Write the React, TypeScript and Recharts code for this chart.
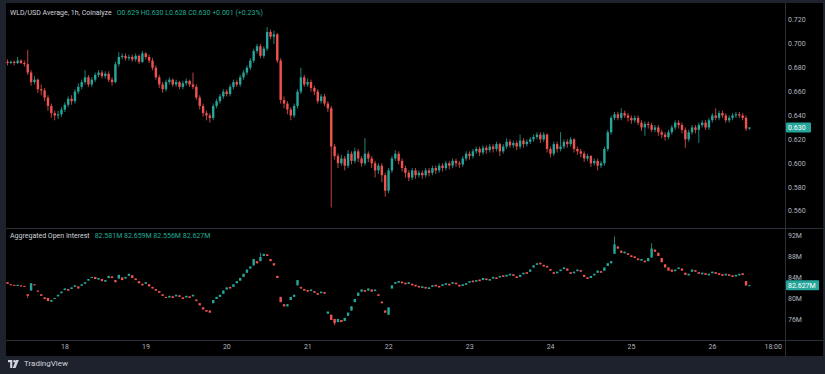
import React from "react";
import { BarChart, Bar, XAxis, YAxis, ReferenceLine } from "recharts";

// WLD/USD hourly candles, starting 17th 07:00 (price x1000)
const priceFirstOpen = 685;
const priceClose = [
  684, 685, 684, 686, 684, 683, 676, 668, 670, 662,
  661, 655, 648, 642, 640, 641, 645, 649, 654, 652,
  660, 664, 668, 672, 666, 670, 674, 676, 673, 675,
  670, 668, 683, 689, 690, 688, 689, 687, 690, 685,
  692, 689, 686, 680, 672, 666, 662, 668, 670, 666,
  668, 664, 667, 669, 666, 664, 655, 648, 642, 640,
  638, 648, 652, 656, 660, 658, 664, 668, 666, 672,
  676, 680, 686, 694, 698, 690, 696, 710, 706, 708,
  686, 653, 650, 645, 640, 648, 660, 672, 666, 668,
  663, 660, 652, 656, 650, 646, 614, 606, 600, 604,
  598, 608, 602, 610, 604, 600, 608, 604, 600, 594,
  598, 590, 577, 594, 604, 608, 602, 596, 592, 588,
  594, 590, 592, 590, 594, 592, 596, 594, 598, 596,
  600, 598, 602, 600, 599, 604, 608, 606, 610, 612,
  609, 613, 611, 614, 612, 616, 610, 614, 618, 615,
  617, 614, 619, 616, 618, 620, 622, 624, 620, 624,
  612, 608, 616, 612, 614, 618, 616, 620, 612, 610,
  608, 604, 606, 600, 602, 598, 600, 612, 626, 638,
  641, 638, 642, 640, 638, 636, 638, 634, 630, 633,
  632, 628, 630, 626, 624, 622, 626, 630, 634, 632,
  628, 620, 626, 630, 628, 632, 634, 630, 636, 640,
  638, 642, 640, 636, 638, 640, 641, 640, 638, 629,
  630,
];
const priceHigh = [
  687, 686, 686, 689, 687, 686, 695, 678, 673, 671,
  666, 663, 657, 650, 644, 644, 647, 651, 656, 657,
  662, 667, 670, 678, 674, 672, 676, 678, 678, 677,
  677, 672, 685, 693, 692, 692, 691, 691, 692, 691,
  694, 693, 691, 688, 682, 674, 668, 670, 672, 671,
  670, 669, 669, 671, 670, 676, 666, 657, 650, 644,
  642, 650, 654, 658, 662, 662, 666, 670, 670, 674,
  678, 682, 688, 696, 700, 700, 698, 714, 712, 711,
  709, 688, 656, 652, 647, 650, 662, 680, 674, 671,
  670, 665, 662, 658, 658, 652, 648, 616, 608, 607,
  606, 611, 610, 613, 612, 606, 621, 610, 606, 602,
  600, 600, 592, 596, 606, 611, 610, 604, 598, 594,
  596, 596, 594, 594, 596, 596, 598, 598, 600, 600,
  602, 602, 604, 604, 602, 606, 610, 610, 612, 614,
  614, 615, 615, 616, 616, 618, 617, 616, 621, 620,
  619, 619, 624, 621, 620, 622, 624, 626, 626, 626,
  625, 614, 618, 618, 626, 620, 620, 622, 621, 614,
  612, 610, 608, 607, 604, 604, 602, 614, 628, 640,
  643, 643, 646, 644, 642, 640, 640, 640, 636, 635,
  635, 634, 632, 632, 628, 626, 628, 632, 636, 636,
  634, 630, 628, 632, 632, 634, 636, 636, 638, 642,
  646, 644, 644, 642, 640, 642, 643, 643, 642, 640,
  630,
];
const priceLow = [
  682, 683, 682, 683, 683, 681, 674, 665, 666, 659,
  657, 652, 644, 638, 636, 637, 639, 643, 647, 649,
  650, 658, 662, 666, 664, 664, 668, 672, 671, 671,
  668, 665, 667, 681, 687, 686, 686, 685, 685, 683,
  684, 687, 684, 678, 670, 663, 659, 660, 666, 664,
  664, 662, 662, 665, 664, 662, 653, 645, 639, 636,
  634, 636, 646, 650, 654, 656, 656, 662, 664, 664,
  670, 674, 678, 684, 692, 688, 688, 694, 704, 700,
  684, 650, 646, 641, 636, 638, 646, 658, 664, 664,
  660, 657, 650, 650, 648, 643, 563, 603, 596, 598,
  594, 596, 599, 600, 601, 597, 598, 601, 596, 588,
  591, 584, 572, 575, 592, 602, 599, 593, 588, 585,
  586, 587, 588, 587, 588, 589, 590, 591, 592, 593,
  594, 595, 596, 597, 596, 597, 602, 603, 604, 608,
  606, 607, 608, 609, 609, 610, 606, 608, 612, 613,
  613, 611, 612, 613, 614, 616, 618, 620, 617, 618,
  609, 605, 606, 609, 610, 612, 613, 614, 609, 607,
  605, 601, 602, 597, 598, 594, 596, 598, 610, 624,
  636, 636, 636, 638, 635, 633, 634, 632, 627, 623,
  629, 626, 626, 623, 621, 619, 620, 624, 628, 629,
  625, 613, 618, 624, 625, 617, 630, 628, 628, 634,
  636, 636, 638, 634, 634, 636, 638, 638, 636, 627,
  628,
];
const priceTicks = [0.56, 0.58, 0.6, 0.62, 0.64, 0.66, 0.68, 0.7, 0.72];

// Aggregated open interest, millions, same hours
const oiOpen = [
  83.2, 82.8, 82.7, 82.5, 82.6, 82.5, 80.9, 81.6, 82.8, 81.6,
  80.9, 80.3, 80.2, 79.5, 80.0, 80.5, 81.1, 81.7, 81.9, 81.9,
  82.3, 82.4, 82.5, 82.9, 83.5, 84.0, 84.2, 83.7, 83.8, 83.3,
  84.0, 84.3, 83.6, 83.9, 84.1, 83.9, 84.4, 84.5, 83.9, 83.4,
  82.9, 82.9, 82.8, 82.3, 81.9, 81.5, 80.9, 80.4, 80.3, 80.5,
  80.5, 80.7, 80.3, 80.3, 80.5, 80.5, 79.9, 79.2, 78.4, 77.9,
  77.8, 79.2, 80.0, 80.4, 81.0, 81.8, 82.3, 82.3, 83.0, 83.5,
  84.2, 85.0, 85.8, 86.4, 87.2, 87.2, 88.2, 88.5, 87.6, 86.8,
  84.4, 80.4, 79.0, 78.6, 79.8, 80.4, 82.6, 82.3, 81.9, 81.7,
  81.5, 81.5, 81.1, 81.1, 81.3, 77.2, 77.0, 76.2, 75.6, 76.0,
  75.8, 76.8, 77.8, 79.4, 80.6, 81.4, 81.7, 81.6, 81.8, 81.5,
  80.9, 79.5, 77.8, 77.0, 82.0, 82.9, 83.1, 83.3, 83.1, 82.9,
  82.9, 82.7, 82.5, 82.1, 82.3, 81.9, 82.3, 82.7, 82.5, 82.5,
  82.7, 82.9, 82.9, 83.1, 82.7, 82.5, 82.7, 83.1, 83.5, 83.3,
  83.7, 83.6, 83.9, 83.5, 83.9, 84.1, 84.1, 84.5, 84.3, 84.5,
  84.7, 84.3, 84.2, 84.7, 85.1, 85.2, 86.0, 86.5, 86.9, 86.5,
  86.3, 85.7, 85.1, 84.9, 85.3, 85.7, 85.8, 85.1, 84.9, 85.3,
  85.5, 84.6, 84.1, 84.0, 84.5, 85.0, 85.3, 85.4, 86.3, 86.8,
  88.6, 90.0, 89.2, 88.7, 88.7, 88.3, 88.1, 87.7, 87.3, 87.3,
  87.2, 87.9, 89.4, 88.8, 87.8, 86.6, 86.0, 85.6, 85.3, 85.7,
  85.8, 85.0, 84.5, 85.2, 85.5, 85.1, 84.7, 84.9, 84.5, 84.9,
  85.1, 84.9, 84.7, 84.5, 84.7, 84.5, 84.3, 84.5, 84.9, 83.4,
  82.581,
];
const oiClose = [
  82.9, 82.6, 82.5, 82.7, 82.4, 82.3, 80.6, 83.0, 82.6, 81.4,
  80.6, 80.0, 79.6, 79.8, 80.2, 80.8, 81.4, 82.0, 81.6, 82.2,
  82.6, 82.0, 82.8, 83.2, 83.8, 84.2, 83.8, 84.0, 83.4, 83.6,
  84.4, 84.0, 83.2, 84.6, 83.6, 84.2, 84.8, 84.0, 83.6, 83.0,
  82.6, 83.2, 82.4, 82.0, 81.6, 81.2, 80.6, 80.2, 80.6, 80.2,
  80.8, 80.4, 80.0, 80.6, 80.2, 80.8, 79.6, 78.8, 78.0, 77.6,
  77.4, 79.8, 80.4, 80.8, 81.6, 82.2, 82.0, 82.8, 83.4, 84.0,
  84.8, 85.6, 86.2, 87.6, 86.8, 88.0, 88.6, 88.2, 87.2, 86.4,
  84.0, 79.4, 78.6, 79.0, 80.4, 80.8, 83.6, 82.0, 81.6, 81.4,
  81.8, 81.2, 80.8, 81.4, 81.0, 77.6, 76.0, 75.4, 76.2, 75.6,
  76.4, 77.4, 78.6, 80.0, 81.2, 81.8, 81.4, 82.0, 81.4, 81.8,
  80.6, 79.2, 77.4, 78.4, 82.6, 83.2, 83.4, 83.0, 82.8, 83.2,
  82.6, 82.4, 82.2, 82.4, 82.0, 82.2, 82.6, 82.4, 82.2, 82.8,
  83.0, 82.6, 83.2, 82.8, 82.4, 82.8, 83.0, 83.4, 83.2, 83.6,
  83.4, 84.0, 83.6, 83.8, 84.2, 83.8, 84.4, 84.2, 84.6, 84.8,
  84.4, 84.0, 84.6, 85.0, 84.8, 85.6, 86.4, 86.8, 86.6, 86.2,
  86.0, 85.4, 84.8, 85.2, 85.6, 86.0, 85.4, 84.8, 85.2, 85.6,
  85.2, 84.2, 83.8, 84.4, 84.8, 85.4, 85.0, 86.0, 86.8, 87.2,
  90.4, 89.6, 88.8, 89.0, 88.4, 88.0, 87.8, 87.4, 87.6, 87.0,
  87.8, 89.6, 89.0, 88.2, 87.0, 86.0, 85.4, 85.2, 85.6, 86.0,
  85.4, 84.6, 84.8, 85.6, 85.2, 84.8, 85.0, 84.6, 84.8, 85.2,
  84.8, 84.6, 84.4, 84.8, 84.4, 84.2, 84.6, 84.8, 84.6, 82.581,
  82.627,
];
// visible OI wicks: [hour index, value]
const oiWickHigh: [number, number][] = [[75, 88.8], [180, 91.9], [191, 90.6], [220, 82.659]];
const oiWickLow: [number, number][] = [[97, 75.0], [6, 80.2], [220, 82.556]];
const oiTicks = [76, 80, 84, 88, 92];

const START_DAY = 17;
const START_HOUR = 7;
const SLOTS = 231;

const UP = "#26a69a";
const DOWN = "#ef5350";
const FRAME = "#1e222d";
const LINE = "#2a2e39";
const TEXT = "#b2b5be";
const FONT = "Roboto, 'Liberation Sans', sans-serif";

const slotTime = (i: number) => {
  const h = START_HOUR + i;
  return { day: START_DAY + Math.floor(h / 24), hour: h % 24 };
};

const priceRows = Array.from({ length: SLOTS }, (_, i) => {
  if (i >= priceClose.length) return { slot: i };
  const open = (i === 0 ? priceFirstOpen : priceClose[i - 1]) / 1000;
  const close = priceClose[i] / 1000;
  const high = priceHigh[i] / 1000;
  const low = priceLow[i] / 1000;
  return { slot: i, open, close, high, low, hl: [low, high] };
});

const oiRows = Array.from({ length: SLOTS }, (_, i) => {
  if (i >= oiClose.length) return { slot: i };
  const open = oiOpen[i];
  const close = oiClose[i];
  const wh = oiWickHigh.find((w) => w[0] === i);
  const wl = oiWickLow.find((w) => w[0] === i);
  const high = wh ? wh[1] : Math.max(open, close);
  const low = wl ? wl[1] : Math.min(open, close);
  return { slot: i, open, close, high, low, hl: [low, high] };
});

const timeTicks = priceRows
  .map((r) => r.slot)
  .filter((i) => {
    const t = slotTime(i);
    return t.hour === 0 || (t.day === 26 && t.hour === 18);
  });
const timeLabel = (i: number) => {
  const t = slotTime(i);
  return t.hour === 0 ? String(t.day) : `${t.hour}:00`;
};

function Candle(props: any) {
  const { x, y, width, height, payload } = props;
  if (!payload || payload.high == null || x == null || isNaN(y)) return null;
  const { open, close, high, low } = payload;
  const top = height < 0 ? y + height : y;
  const h = Math.abs(height);
  const span = high - low;
  const py = (v: number) => (span > 0 ? top + ((high - v) / span) * h : top);
  const color = close >= open ? UP : DOWN;
  const cx = x + width / 2;
  const bTop = py(Math.max(open, close));
  const bH = Math.max(1, py(Math.min(open, close)) - bTop);
  const bw = 2.4;
  return (
    <g>
      {h > 0 && <line x1={cx} x2={cx} y1={top} y2={top + h} stroke={color} strokeWidth={0.8} />}
      <rect x={cx - bw / 2} y={bTop} width={bw} height={bH} fill={color} />
    </g>
  );
}

function TimeTick(props: any) {
  const { x, y, payload } = props;
  return (
    <text x={x} y={y + 7} textAnchor="middle" fill={TEXT} fontSize={7} fontFamily={FONT}>
      {timeLabel(payload.value)}
    </text>
  );
}

function Tag({ viewBox, text, w }: any) {
  if (!viewBox) return null;
  const x = viewBox.x + viewBox.width + 1;
  const y = viewBox.y;
  return (
    <g>
      <rect x={x} y={y - 5} width={w} height={10} rx={1} fill={UP} />
      <text x={x + 2} y={y + 2.5} fill="#ffffff" fontSize={7} fontFamily={FONT}>
        {text}
      </text>
    </g>
  );
}

const lastPrice = priceClose[priceClose.length - 1] / 1000;
const lastOi = oiClose[oiClose.length - 1];

export default function App() {
  return (
    <div
      style={{
        position: "fixed",
        left: 0,
        top: 0,
        width: 825,
        height: 374,
        background: FRAME,
        overflow: "hidden",
        fontFamily: FONT,
      }}
    >
      <div style={{ position: "absolute", left: 6, top: 3, width: 817, height: 353, background: "#000" }} />

      <div style={{ position: "absolute", left: 6, top: 3 }}>
        <BarChart
          width={817}
          height={225}
          data={priceRows}
          margin={{ top: 0, right: 0, bottom: 0, left: 0 }}
          barCategoryGap={0}
          barGap={0}
        >
          <XAxis dataKey="slot" type="category" hide />
          <YAxis
            orientation="right"
            width={38}
            domain={[0.54576, 0.73424]}
            allowDataOverflow
            ticks={priceTicks}
            interval={0}
            tickSize={0}
            tickMargin={3}
            tickLine={false}
            axisLine={false}
            tick={{ fill: TEXT, fontSize: 7, fontFamily: FONT }}
            tickFormatter={(v: number) => v.toFixed(3)}
          />
          <Bar dataKey={(d: any) => d.hl} shape={<Candle />} isAnimationActive={false} />
          <ReferenceLine
            y={lastPrice}
            stroke="none"
            label={(p: any) => <Tag {...p} text={lastPrice.toFixed(3)} w={25} />}
          />
        </BarChart>
      </div>

      <div style={{ position: "absolute", left: 6, top: 229 }}>
        <BarChart
          width={817}
          height={127}
          data={oiRows}
          margin={{ top: 0, right: 0, bottom: 0, left: 0 }}
          barCategoryGap={0}
          barGap={0}
        >
          <XAxis
            dataKey="slot"
            type="category"
            height={16}
            ticks={timeTicks}
            interval={0}
            tickLine={false}
            tickSize={0}
            axisLine={false}
            tick={<TimeTick />}
          />
          <YAxis
            orientation="right"
            width={38}
            domain={[72.19, 93.33]}
            allowDataOverflow
            tick={false}
            tickLine={false}
            axisLine={false}
          />
          <Bar dataKey={(d: any) => d.hl} shape={<Candle />} isAnimationActive={false} />
          {oiTicks.map((v, i) => (
            <ReferenceLine
              key={`oi-${i}`}
              y={v}
              stroke="none"
              label={{ value: `${v}M`, position: "right", fill: TEXT, fontSize: 7, fontFamily: FONT, offset: 3 }}
            />
          ))}
          <ReferenceLine
            y={lastOi}
            stroke="none"
            label={(p: any) => <Tag {...p} text={`${lastOi.toFixed(3)}M`} w={33} />}
          />
        </BarChart>
      </div>

      {/* pane separators */}
      <div style={{ position: "absolute", left: 6, top: 228, width: 817, height: 1, background: LINE }} />
      <div style={{ position: "absolute", left: 6, top: 340, width: 817, height: 1, background: LINE }} />
      <div style={{ position: "absolute", left: 785, top: 3, width: 1, height: 353, background: LINE }} />

      {/* legends */}
      <div style={{ position: "absolute", left: 10, top: 9, fontSize: 7, color: "#d1d4dc", whiteSpace: "nowrap" }}>
        WLD/USD Average, 1h, Coinalyze
        <span style={{ color: "#22ab94", marginLeft: 5 }}>
          O0.629 H0.630 L0.628 C0.630 +0.001 (+0.23%)
        </span>
      </div>
      <div style={{ position: "absolute", left: 10, top: 232, fontSize: 7, color: "#d1d4dc", whiteSpace: "nowrap" }}>
        Aggregated Open Interest
        <span style={{ color: "#22ab94", marginLeft: 5 }}>82.581M 82.659M 82.556M 82.627M</span>
      </div>

      {/* footer */}
      <div style={{ position: "absolute", left: 8, top: 359, display: "flex", alignItems: "center", color: "#d1d4dc" }}>
        <svg width={13} height={8} viewBox="0 0 36 22">
          <path d="M0 0h12v22H6V6H0z" fill="#d1d4dc" />
          <circle cx={18} cy={3.5} r={3.5} fill="#d1d4dc" />
          <path d="M22 0h8l-9 22h-8z" fill="#d1d4dc" />
        </svg>
        <span style={{ fontSize: 8, marginLeft: 3 }}>TradingView</span>
      </div>
    </div>
  );
}
